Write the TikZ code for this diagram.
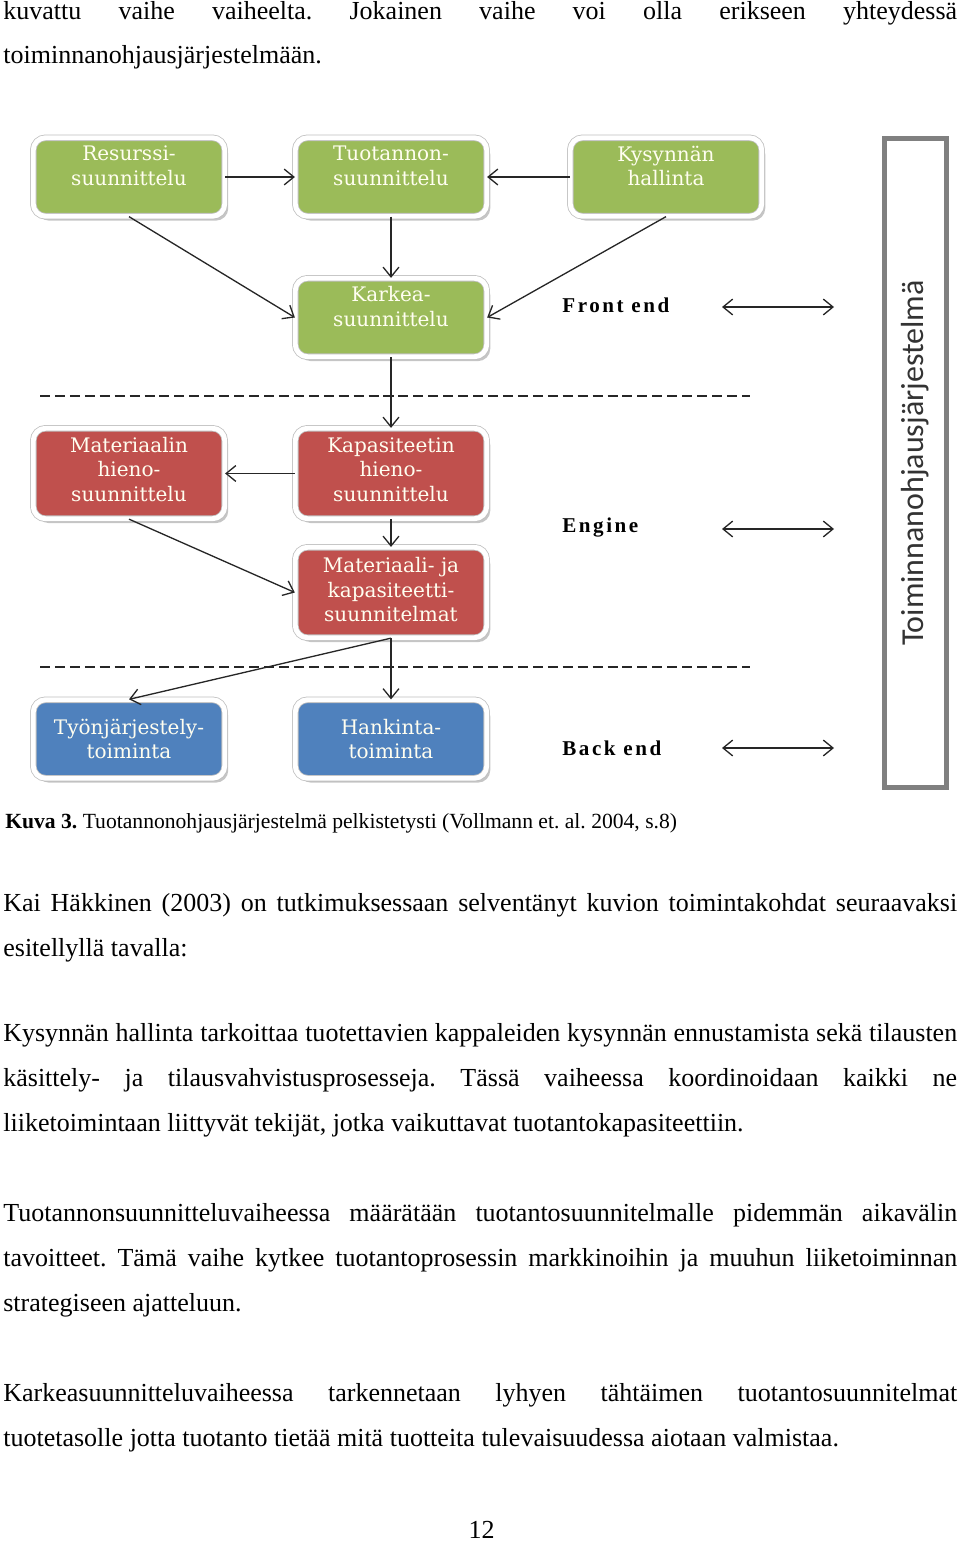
\documentclass[tikz,border=0pt]{standalone}
\usepackage{fontspec}
\setmainfont{Liberation Serif}
\newfontfamily\boxfont{DejaVu Serif}
\newfontfamily\tagfont{Liberation Serif}[LetterSpace=12]
\newfontfamily\sysfont{Carlito}
\usetikzlibrary{arrows.meta,shadows}
\definecolor{plangreen}{HTML}{9BBB59}
\definecolor{planred}{HTML}{C0504D}
\definecolor{planblue}{HTML}{4F81BD}
\def\drop#1{\rule[-#1]{0pt}{#1}}
\def\fullline#1{\makebox[19.08cm][s]{#1}}
\frenchspacing
\tikzset{
  stage/.style={rectangle, rounded corners=7pt, draw=black!25, double=white, double distance=2.8pt,
    line width=0.45pt, minimum width=3.83cm, minimum height=1.57cm, align=center, inner sep=0pt,
    text=white!94!yellow, font=\boxfont\fontsize{11.4}{13.9}\selectfont,
    drop shadow={shadow xshift=2pt, shadow yshift=-2.5pt, fill=black!45, opacity=0.5}},
  greenstage/.style={stage, fill=plangreen},
  redstage/.style={stage, fill=planred},
  bluestage/.style={stage, fill=planblue},
  tall/.style={minimum height=1.81cm},
  flow/.style={-{Straight Barb[length=5.5pt,width=9pt]}, line width=0.75pt, black!85},
  both/.style={{Straight Barb[length=5.5pt,width=9pt]}-{Straight Barb[length=5.5pt,width=9pt]}, line width=0.75pt, black!85},
  split/.style={dash pattern=on 5.7pt off 2.8pt, line width=1.1pt, black!85},
  tag/.style={anchor=west, inner sep=0pt, font=\tagfont\bfseries\fontsize{12}{14}\selectfont},
  sysbox/.style={draw=black!50, line width=2.8pt, rotate=90, minimum width=13cm, minimum height=1.24cm,
    inner sep=0pt, text=black!80, font=\sysfont\fontsize{18.2}{20}\selectfont},
  body/.style={anchor=base west, inner sep=0pt, font=\fontsize{14.8}{17}\selectfont\frenchspacing},
  caption/.style={anchor=base west, inner sep=0pt, font=\fontsize{12.3}{14}\selectfont\frenchspacing}
}

\begin{document}
\begin{tikzpicture}[x=0.02cm, y=-0.02cm]
		%%%%% START %%%%%
		\useasboundingbox (0,0) rectangle (960,1544);
		
		% text above the figure
		\node[body] (p1) at (3,20) {\fullline{kuvattu vaihe vaiheelta. Jokainen vaihe voi olla erikseen yhteydessä}};
		\node[body] (p2) at (3,64) {toiminnanohjausjärjestelmään.};
		
		% front end
		\node[greenstage] (res) at (129,177) {Resurssi-\\suunnittelu\drop{0.45cm}};
		\node[greenstage] (tuo) at (391,177) {Tuotannon-\\suunnittelu\drop{0.45cm}};
		\node[greenstage] (kys) at (666,177) {Kysynnän\\hallinta\drop{0.45cm}};
		\node[greenstage] (kar) at (391,317.5) {Karkea-\\suunnittelu\drop{0.45cm}};
		
		\draw[flow] (res.east) -- (tuo.west);
		\draw[flow] (kys.west) -- (tuo.east);
		\draw[flow] (tuo.south) -- (kar.north);
		\draw[flow] (res.south) -- (kar.west);
		\draw[flow] (kys.south) -- (kar.east);
		
		\draw[split] (40,396) -- (750,396);
		
		% engine
		\node[redstage, tall] (mat) at (129,473.5) {Materiaalin\\hieno-\\suunnittelu\drop{0.17cm}};
		\node[redstage, tall] (kap) at (391,473.5) {Kapasiteetin\\hieno-\\suunnittelu\drop{0.17cm}};
		\node[redstage, tall] (mk) at (391,592.5) {Materiaali- ja\\kapasiteetti-\\suunnitelmat\drop{0.12cm}};
		
		\draw[flow] (kar.south) -- (kap.north);
		\draw[flow] (kap.west) -- (mat.east);
		\draw[flow] (kap.south) -- (mk.north);
		\draw[flow] (mat.south) -- (mk.west);
		
		\draw[split] (40,667) -- (750,667);
		
		% back end
		\node[bluestage] (tyo) at (129,739) {Työnjärjestely-\\toiminta};
		\node[bluestage] (han) at (391,739) {Hankinta-\\toiminta};
		
		\draw[flow] (mk.south) -- (tyo.north);
		\draw[flow] (mk.south) -- (han.north);
		
		% levels and the system
		\node[tag] (front) at (562,305) {Front end};
		\node[tag] (engine) at (562,528) {Engine};
		\node[tag] (back) at (562,748) {Back end};
		\coordinate (frontl) at (722,307);
		\coordinate (frontr) at (834,307);
		\coordinate (enginel) at (722,529);
		\coordinate (enginer) at (834,529);
		\coordinate (backl) at (722,748);
		\coordinate (backr) at (834,748);
		\draw[both] (frontl) -- (frontr);
		\draw[both] (enginel) -- (enginer);
		\draw[both] (backl) -- (backr);
		
		\node[sysbox] (sys) at (915.5,463) {Toiminnanohjausjärjestelmä};
		
		% caption and text below
		\node[caption] (cap) at (5,828) {\textbf{Kuva 3.} Tuotannonohjausjärjestelmä pelkistetysti (Vollmann et. al. 2004, s.8)};
		
		\node[body] (p3) at (3,911) {\fullline{Kai Häkkinen (2003) on tutkimuksessaan selventänyt kuvion toimintakohdat seuraavaksi}};
		\node[body] (p4) at (3,956) {esitellyllä tavalla:};
		
		\node[body] (p5) at (3,1041) {\fullline{Kysynnän hallinta tarkoittaa tuotettavien kappaleiden kysynnän ennustamista sekä tilausten}};
		\node[body] (p6) at (3,1086) {\fullline{käsittely- ja tilausvahvistusprosesseja. Tässä vaiheessa koordinoidaan kaikki ne}};
		\node[body] (p7) at (3,1131) {liiketoimintaan liittyvät tekijät, jotka vaikuttavat tuotantokapasiteettiin.};
		
		\node[body] (p8) at (3,1221) {\fullline{Tuotannonsuunnitteluvaiheessa määrätään tuotantosuunnitelmalle pidemmän aikavälin}};
		\node[body] (p9) at (3,1266) {\fullline{tavoitteet. Tämä vaihe kytkee tuotantoprosessin markkinoihin ja muuhun liiketoiminnan}};
		\node[body] (p10) at (3,1311) {strategiseen ajatteluun.};
		
		\node[body] (p11) at (3,1401) {\fullline{Karkeasuunnitteluvaiheessa tarkennetaan lyhyen tähtäimen tuotantosuunnitelmat}};
		\node[body] (p12) at (3,1446) {tuotetasolle jotta tuotanto tietää mitä tuotteita tulevaisuudessa aiotaan valmistaa.};
		
		\node[body, anchor=base] (pnum) at (481.5,1538) {12};
		%%%%% END %%%%%
\end{tikzpicture}
\end{document}
